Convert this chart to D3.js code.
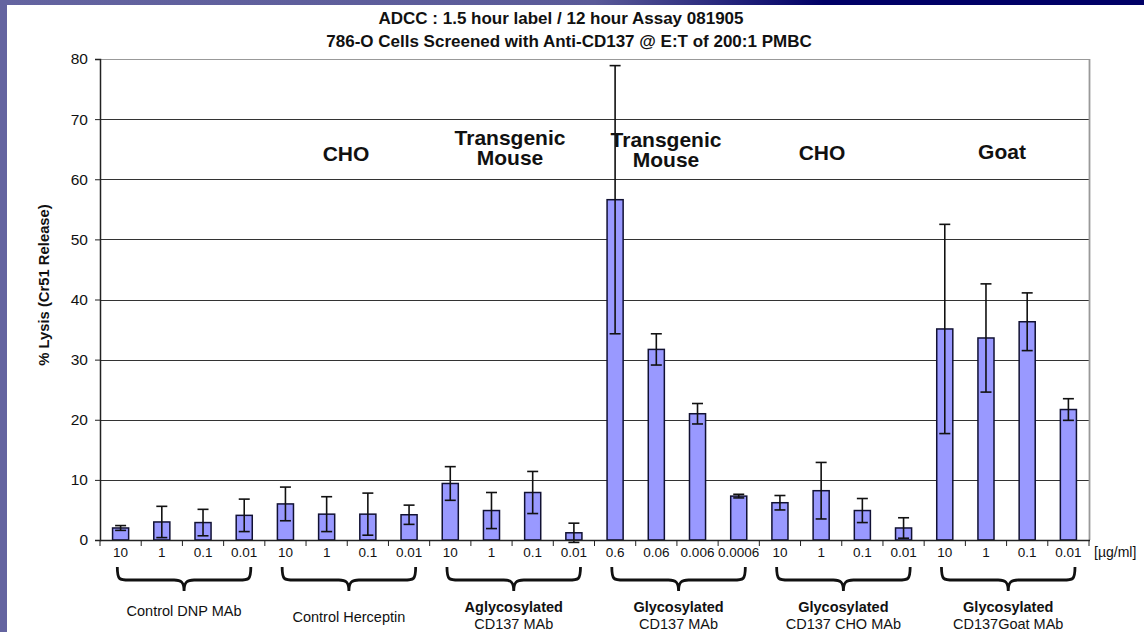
<!DOCTYPE html>
<html>
<head>
<meta charset="utf-8">
<script src="https://cdn.jsdelivr.net/npm/d3@7"></script>
<style>
  body { margin: 0; background: #fff; }
  svg { display: block; font-family: "Liberation Sans", Arial, sans-serif; }
</style>
</head>
<body>
<div id="chart"></div>
<script>
// Data
const doses = ['10', '1', '0.1', '0.01', '10', '1', '0.1', '0.01', '10', '1', '0.1', '0.01',
  '0.6', '0.06', '0.006', '0.0006', '10', '1', '0.1', '0.01', '10', '1', '0.1', '0.01']
const lysis = [2.0, 3.0, 2.9, 4.1, 6.0, 4.3, 4.3, 4.2, 9.4, 4.9, 7.9, 1.2,
  56.6, 31.7, 21.0, 7.3, 6.2, 8.2, 4.9, 2.0, 35.1, 33.6, 36.3, 21.7]
const errs = [0.4, 2.6, 2.2, 2.7, 2.8, 2.9, 3.5, 1.6, 2.8, 3.0, 3.5, 1.6,
  22.3, 2.6, 1.7, 0.3, 1.2, 4.7, 2.0, 1.7, 17.4, 9.0, 4.8, 1.8]
const groupBold = ['', '', 'Aglycosylated', 'Glycosylated', 'Glycosylated', 'Glycosylated']
const groupName = ['Control DNP MAb', 'Control Herceptin', 'CD137 MAb', 'CD137 MAb', 'CD137 CHO MAb', 'CD137Goat MAb']
const sourceLabels = [null, ['CHO'], ['Transgenic', 'Mouse'], ['Transgenic', 'Mouse'], ['CHO'], ['Goat']]
const yTicks = [0, 10, 20, 30, 40, 50, 60, 70, 80]

const width = 1144, height = 632
const margin = { left: 100, right: 55, top: 59, bottom: 92 }
const FONT = '"Liberation Sans", Arial, sans-serif'

const svg = d3.select('#chart').append('svg')
  .attr('width', width).attr('height', height)
  .attr('font-family', FONT)

// Slide frame
const grad = svg.append('defs').append('linearGradient').attr('id', 'topbar')
grad.append('stop').attr('offset', '0%').attr('stop-color', '#6464a0')
grad.append('stop').attr('offset', '52%').attr('stop-color', '#5a5a98')
grad.append('stop').attr('offset', '72%').attr('stop-color', '#000066')
grad.append('stop').attr('offset', '100%').attr('stop-color', '#000066')
svg.append('rect').attr('x', 0).attr('y', 0).attr('width', width).attr('height', 5).attr('fill', 'url(#topbar)')
svg.append('rect').attr('x', 0).attr('y', 0).attr('width', 7).attr('height', height).attr('fill', '#6464a0')

const x0 = margin.left, x1 = width - margin.right
const y0 = height - margin.bottom, y1 = margin.top

const x = d3.scaleBand().domain(d3.range(lysis.length)).range([x0, x1]).paddingInner(0).paddingOuter(0)
const y = d3.scaleLinear().domain([0, 80]).range([y0, y1])
const barW = x.bandwidth() * 0.39

// Gridlines
svg.append('g').selectAll('line').data(yTicks.filter(d => d > 0)).join('line')
  .attr('x1', x0).attr('x2', x1)
  .attr('y1', d => Math.round(y(d)) + 0.5).attr('y2', d => Math.round(y(d)) + 0.5)
  .attr('stroke', d => d === 80 ? '#999' : '#333').attr('stroke-width', 1)

// Right border
svg.append('line').attr('x1', x1 + 0.5).attr('x2', x1 + 0.5).attr('y1', y1).attr('y2', y0)
  .attr('stroke', '#999').attr('stroke-width', 1.8)

// Bars
svg.append('g').selectAll('rect').data(lysis).join('rect')
  .attr('x', (d, i) => x(i) + (x.bandwidth() - barW) / 2)
  .attr('y', d => y(d))
  .attr('width', barW)
  .attr('height', d => y(0) - y(d))
  .attr('fill', '#9999ff')
  .attr('stroke', '#111133')
  .attr('stroke-width', 1.5)

// Error bars
const eb = svg.append('g').attr('stroke', '#111').attr('stroke-width', 1.6)
lysis.forEach((v, i) => {
  const cx = x(i) + x.bandwidth() / 2
  const hi = y(v + errs[i]), lo = y(v - errs[i])
  eb.append('line').attr('x1', cx).attr('x2', cx).attr('y1', hi).attr('y2', lo)
  eb.append('line').attr('x1', cx - 5.5).attr('x2', cx + 5.5).attr('y1', hi).attr('y2', hi)
  eb.append('line').attr('x1', cx - 5.5).attr('x2', cx + 5.5).attr('y1', lo).attr('y2', lo)
})

// Y axis
const yAxis = svg.append('g').attr('transform', `translate(${x0},0)`)
  .call(d3.axisLeft(y).tickValues(yTicks).tickSize(5).tickPadding(7))
yAxis.select('.domain').attr('stroke', '#222').attr('stroke-width', 1.5)
yAxis.selectAll('.tick line').attr('stroke', '#222')
yAxis.selectAll('text').attr('font-size', 15.5).attr('fill', '#111').attr('font-family', FONT)

// X axis
const xAxis = svg.append('g').attr('transform', `translate(0,${y0})`)
xAxis.append('line').attr('x1', x0).attr('x2', x1 + 1).attr('y1', 0.5).attr('y2', 0.5)
  .attr('stroke', '#222').attr('stroke-width', 1.5)
xAxis.selectAll('.tk').data(d3.range(lysis.length + 1)).join('line')
  .attr('x1', i => i < lysis.length ? x(i) : x1).attr('x2', i => i < lysis.length ? x(i) : x1)
  .attr('y1', 0).attr('y2', 6).attr('stroke', '#222')
xAxis.selectAll('text').data(doses).join('text')
  .attr('x', (d, i) => x(i) + x.bandwidth() / 2)
  .attr('y', 17)
  .attr('text-anchor', 'middle')
  .attr('font-size', 13.5).attr('fill', '#111')
  .text(d => d)
svg.append('text').attr('x', x1 + 5).attr('y', y0 + 17).attr('font-size', 14).attr('fill', '#111').text('[µg/ml]')

// Braces and group labels
const groupW = x.bandwidth() * 4
groupName.forEach((name, g) => {
  const gx = x0 + g * groupW
  const a = gx + groupW * 0.105, b = gx + groupW * 0.915
  const m = (a + b) / 2
  const top = 567, mid = 580, tip = 591
  const path = `M${a},${top} C${a},${mid} ${a + 2},${mid} ${a + 12},${mid} L${m - 10},${mid} C${m - 3},${mid} ${m},${mid + 2} ${m},${tip}` +
    ` C${m},${mid + 2} ${m + 3},${mid} ${m + 10},${mid} L${b - 12},${mid} C${b - 2},${mid} ${b},${mid} ${b},${top}`
  svg.append('path').attr('d', path).attr('fill', 'none').attr('stroke', '#111').attr('stroke-width', 2.8)

  if (groupBold[g]) {
    svg.append('text').attr('x', m).attr('y', 612).attr('text-anchor', 'middle')
      .attr('font-size', 14.5).attr('font-weight', 'bold').attr('fill', '#111').text(groupBold[g])
    svg.append('text').attr('x', m).attr('y', 629).attr('text-anchor', 'middle')
      .attr('font-size', 14.5).attr('fill', '#111').text(name)
  } else {
    svg.append('text').attr('x', m).attr('y', g === 0 ? 616 : 622).attr('text-anchor', 'middle')
      .attr('font-size', 14.5).attr('fill', '#111').text(name)
  }
})

// Source labels inside the plot
const srcPos = [null, [346, 161], [510, 145], [666, 147], [822, 160], [1002, 159]]
sourceLabels.forEach((lines, g) => {
  if (!lines) return
  const t = svg.append('text').attr('text-anchor', 'middle').attr('font-size', 21)
    .attr('font-weight', 'bold').attr('fill', '#111')
  lines.forEach((l, k) => {
    t.append('tspan').attr('x', srcPos[g][0]).attr('y', srcPos[g][1] + k * 20).text(l)
  })
})

// Title
svg.append('text').attr('x', 561).attr('y', 24).attr('text-anchor', 'middle')
  .attr('font-size', 17).attr('font-weight', 'bold').attr('fill', '#111')
  .text('ADCC : 1.5 hour label / 12 hour Assay 081905')
svg.append('text').attr('x', 569).attr('y', 47).attr('text-anchor', 'middle')
  .attr('font-size', 17).attr('font-weight', 'bold').attr('fill', '#111')
  .text('786-O Cells Screened with Anti-CD137 @ E:T of 200:1 PMBC')

// Y axis title
svg.append('text').attr('transform', `translate(49,285) rotate(-90)`)
  .attr('text-anchor', 'middle').attr('font-size', 14.8).attr('font-weight', 'bold').attr('fill', '#111')
  .text('% Lysis (Cr51 Release)')
</script>
</body>
</html>
